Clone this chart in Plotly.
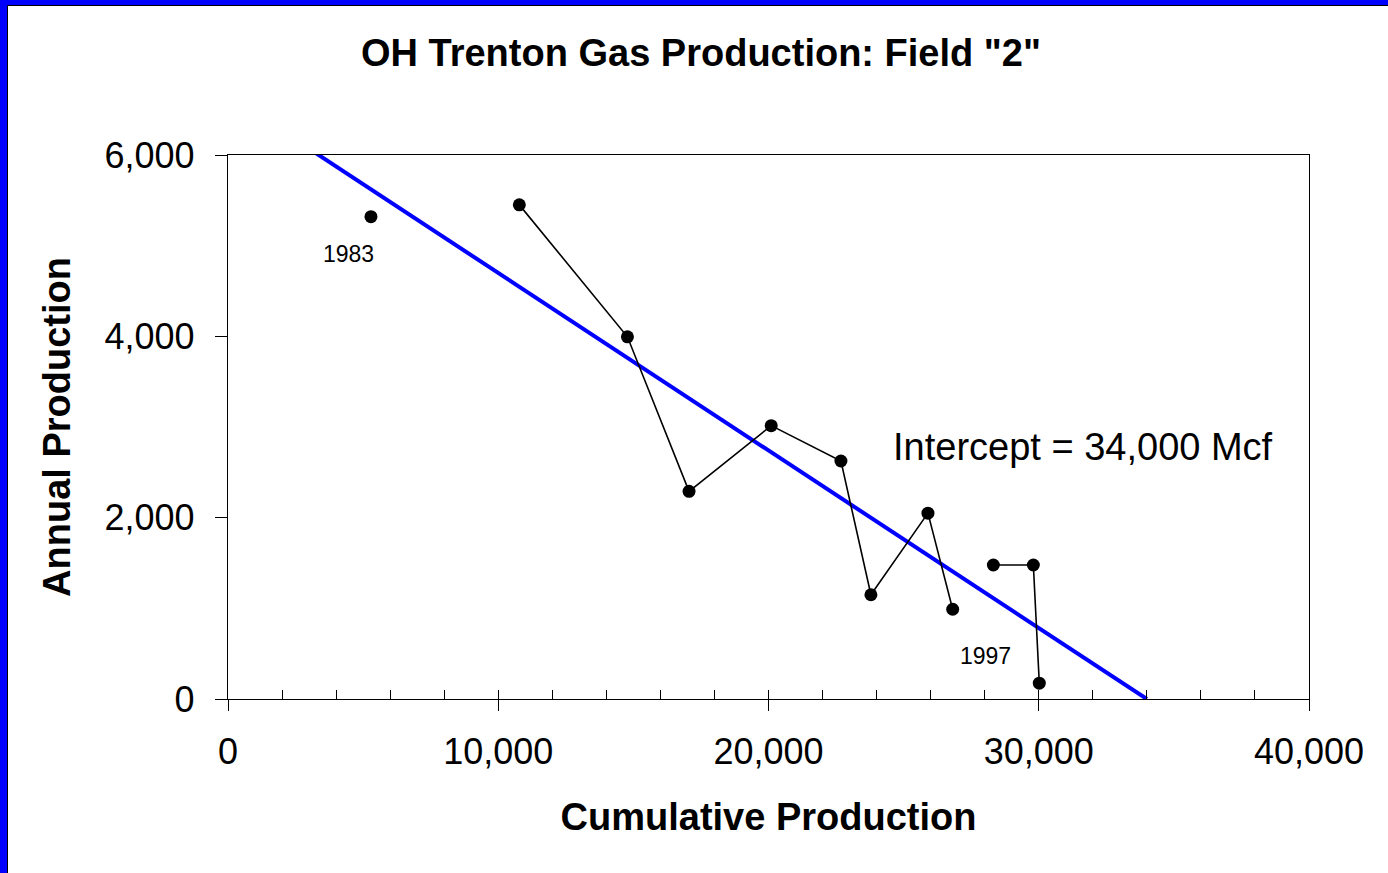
import plotly.graph_objects as go

# ---------------- data ----------------
years = [1983, 1984, 1985, 1986, 1987, 1988, 1989, 1990, 1991, 1992, 1993, 1994]
cum_production = [5290, 10780, 14780, 17060, 20100, 22680, 23790, 25900, 26815, 28320, 29800, 30020]
annual_production = [5320, 5450, 3995, 2290, 3015, 2625, 1150, 2050, 990, 1478, 1478, 175]
break_after = [0, 8]          # the plotted line is broken after these points

trend_x = [3100, 34000]
trend_y = [6050, 0]

first_label = "1983"
last_label = "1997"
intercept_text = "Intercept = 34,000 Mcf"
title_text = 'OH Trenton Gas Production: Field "2"'
x_title = "Cumulative Production"
y_title = "Annual Production"

x_range = [0, 40000]
y_range = [0, 6000]

# ---------------- layout constants ----------------
W, H = 1388, 873
ML, MR, MT, MB = 228, 79, 155, 174
PW, PH = W - ML - MR, H - MT - MB
FONT = "Liberation Sans, Arial, Helvetica, sans-serif"


def px_to_paper_x(px):
    return (px - ML) / PW


def px_to_paper_y(py):
    return (H - MB - py) / PH


# build broken line
lx, ly = [], []
for i, (cx, ay) in enumerate(zip(cum_production, annual_production)):
    lx.append(cx)
    ly.append(ay)
    if i in break_after:
        lx.append(None)
        ly.append(None)

fig = go.Figure()

# empty trace so the overlay axis (inner minor ticks) is drawn
fig.add_trace(go.Scatter(x=[None], y=[None], xaxis="x2", yaxis="y",
                         mode="markers", showlegend=False, hoverinfo="skip"))

fig.add_trace(go.Scatter(
    x=trend_x, y=trend_y, mode="lines",
    line=dict(color="#0000FF", width=4),
    hoverinfo="skip", showlegend=False,
))

fig.add_trace(go.Scatter(
    x=lx, y=ly, mode="lines+markers",
    line=dict(color="black", width=1.6),
    marker=dict(color="black", size=13),
    connectgaps=False,
    showlegend=False,
    text=years,
))

fig.add_annotation(x=cum_production[0], y=annual_production[0], text=first_label,
                   showarrow=False, xshift=-22, yshift=-37,
                   font=dict(family=FONT, size=23, color="black"))
fig.add_annotation(x=cum_production[-1], y=annual_production[-1], text=last_label,
                   showarrow=False, xshift=-54, yshift=27,
                   font=dict(family=FONT, size=23, color="black"))
fig.add_annotation(x=31640, y=2780, text=intercept_text, showarrow=False,
                   font=dict(family=FONT, size=38, color="black"))

# blue frame on the left and top edges
shapes = [
    dict(type="rect", xref="paper", yref="paper",
         x0=px_to_paper_x(-5), x1=px_to_paper_x(7.5),
         y0=px_to_paper_y(H + 5), y1=px_to_paper_y(-5),
         fillcolor="#0000FF", line=dict(width=0), layer="above"),
    dict(type="rect", xref="paper", yref="paper",
         x0=px_to_paper_x(-5), x1=px_to_paper_x(W + 5),
         y0=px_to_paper_y(5.5), y1=px_to_paper_y(-5),
         fillcolor="#0000FF", line=dict(width=0), layer="above"),
    dict(type="line", xref="paper", yref="paper",
         x0=px_to_paper_x(7.5), x1=px_to_paper_x(7.5),
         y0=px_to_paper_y(H + 5), y1=px_to_paper_y(5.5),
         line=dict(color="black", width=1), layer="above"),
    dict(type="line", xref="paper", yref="paper",
         x0=px_to_paper_x(7.5), x1=px_to_paper_x(W + 5),
         y0=px_to_paper_y(5.5), y1=px_to_paper_y(5.5),
         line=dict(color="black", width=1), layer="above"),
]

fig.update_layout(
    width=W, height=H,
    margin=dict(l=ML, r=MR, t=MT, b=MB, pad=0),
    paper_bgcolor="white", plot_bgcolor="white",
    font=dict(family=FONT, color="black"),
    showlegend=False,
    shapes=shapes,
    title=dict(text="<b>" + title_text + "</b>", xref="container", yref="container",
               x=701 / W, y=1 - 53 / H, xanchor="center", yanchor="middle",
               font=dict(family=FONT, size=38, color="black")),
    xaxis=dict(
        range=x_range, dtick=10000, tickformat=",d",
        showgrid=False, zeroline=False,
        showline=True, linecolor="black", linewidth=1.3, mirror=True,
        ticks="outside", ticklen=11, tickwidth=1.3, tickcolor="black",
        tickfont=dict(family=FONT, size=36, color="black"),
        ticklabelstandoff=10,
        title=dict(text="<b>" + x_title + "</b>", standoff=32,
                   font=dict(family=FONT, size=38, color="black")),
        automargin=False,
    ),
    xaxis2=dict(
        range=x_range, overlaying="x", anchor="y", side="bottom",
        dtick=2000, ticks="inside", ticklen=9, tickwidth=1.3, tickcolor="black",
        showticklabels=False, showgrid=False, zeroline=False, showline=False,
    ),
    yaxis=dict(
        range=y_range, dtick=2000, tickformat=",d",
        showgrid=False, zeroline=False,
        showline=True, linecolor="black", linewidth=1.3, mirror=True,
        ticks="outside", ticklen=12, tickwidth=1.3, tickcolor="black",
        tickfont=dict(family=FONT, size=36, color="black"),
        ticklabelstandoff=13,
        title=dict(text="<b>" + y_title + "</b>", standoff=22,
                   font=dict(family=FONT, size=38, color="black")),
        automargin=False,
    ),
)

fig.write_html("out.html", include_plotlyjs=True,
               config={"displayModeBar": False},
               post_script="document.body.style.margin='0';document.body.style.overflow='hidden';")
